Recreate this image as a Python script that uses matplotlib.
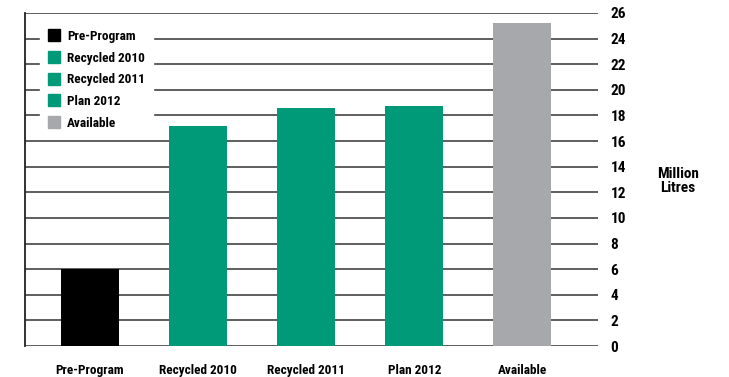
import matplotlib.pyplot as plt
from matplotlib.lines import Line2D

categories = ["Pre-Program", "Recycled 2010", "Recycled 2011", "Plan 2012", "Available"]
values = [6.0, 17.2, 18.6, 18.75, 25.2]
colors = ["#000000", "#009a78", "#009a78", "#009a78", "#a7a8ab"]
yticks = list(range(0, 27, 2))

plt.rcParams["font.family"] = ["Roboto Condensed", "DejaVu Sans"]
plt.rcParams["font.weight"] = "bold"

fig = plt.figure(figsize=(7.29, 3.77), dpi=100)
ax = fig.add_axes([25 / 729, 1 - 346 / 377, 573 / 729, 333 / 377])

# horizontal rules behind the bars
for y in yticks:
    ax.axhline(y, color="#333333", lw=1.1, zorder=1)
ax.bar(range(len(values)), values, width=0.537, color=colors, zorder=2)

ax.set_xlim(-0.6, 4.7)
ax.set_ylim(0, 26)
ax.set_xticks(range(len(categories)))
ax.set_xticklabels(categories, fontsize=9.5, fontweight="bold")
ax.set_yticks(yticks)
ax.set_yticklabels([str(v) for v in yticks], fontsize=11, fontweight="bold")
ax.yaxis.tick_right()
ax.tick_params(axis="y", length=0, pad=9)
ax.tick_params(axis="x", length=0, pad=13)

for s in ["top", "right", "bottom"]:
    ax.spines[s].set_visible(False)
ax.spines["left"].set_color("#222222")
ax.spines["left"].set_linewidth(1.3)

fig.text(678 / 729, 1 - 181 / 377, "Million\nLitres", ha="center", va="center",
         fontsize=11, fontweight="bold", linespacing=1.0)

handles = [Line2D([], [], marker="s", ls="", markersize=8, color=c) for c in colors]
leg = ax.legend(handles, categories, loc="upper left",
                bbox_to_anchor=(40 / 729, 1 - 22 / 377), bbox_transform=fig.transFigure,
                borderaxespad=0, frameon=True, fancybox=False, edgecolor="white",
                facecolor="white", framealpha=1, handlelength=0.9, handletextpad=0.55,
                labelspacing=0.66, borderpad=0.6,
                prop={"family": ["Roboto Condensed", "DejaVu Sans"], "weight": "bold", "size": 9.5})
leg.set_zorder(5)

fig.savefig("out.png", dpi=100)
